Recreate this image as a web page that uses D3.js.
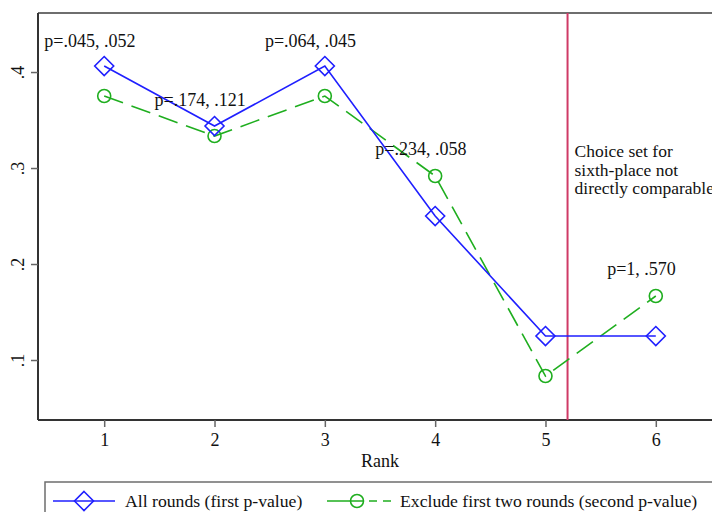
<!DOCTYPE html>
<html>
<head>
<meta charset="utf-8">
<script src="https://cdn.jsdelivr.net/npm/d3@7"></script>
<style>
  html, body { margin: 0; padding: 0; background: #fff; }
  svg { display: block; font-family: "Liberation Serif", "Times New Roman", serif; }
  svg text { font-family: "Liberation Serif", "Times New Roman", serif; }
</style>
</head>
<body>
<svg id="chart" width="712" height="512"></svg>
<script>
// ---- data ----
const ranks = [1, 2, 3, 4, 5, 6];
const allRounds = [0.40625, 0.34375, 0.40625, 0.25, 0.125, 0.125];
const excludeFirstTwo = [0.375, 0.3333, 0.375, 0.2917, 0.0833, 0.1667];
const pLabelRanks = [1, 2, 3, 4, 6];
const pLabels = ["p=.045, .052", "p=.174, .121", "p=.064, .045", "p=.234, .058", "p=1, .570"];
const pLabelY = [0.426, 0.3646, 0.426, 0.3135, 0.1885];
const xTicks = [1, 2, 3, 4, 5, 6];
const yTicks = [0.1, 0.2, 0.3, 0.4];
const yTickLabels = [".1", ".2", ".3", ".4"];
const cutoffRank = 5.2;
const noteLines = ["Choice set for", "sixth-place not", "directly comparable"];
const legendLabels = ["All rounds (first p-value)", "Exclude first two rounds (second p-value)"];
const xTitle = "Rank";

// ---- layout ----
const svg = d3.select("#chart");
const pL = 38, pR = 722, pT = 13, pB = 420;
const x = d3.scaleLinear().domain([0.4, 6.6]).range([pL, pR]);
const y = d3.scaleLinear().domain([0.0375, 0.4615]).range([pB, pT]);

const blue = "#1f1fff", green = "#1fae1f", red = "#cf3a66";
const fs = 18;

// plot frame (top and right)
svg.append("line").attr("x1", pL).attr("x2", pR).attr("y1", pT).attr("y2", pT)
  .attr("stroke", "#6e6e6e").attr("stroke-width", 2);
svg.append("line").attr("x1", pR).attr("x2", pR).attr("y1", pT).attr("y2", pB)
  .attr("stroke", "#6e6e6e").attr("stroke-width", 2);

// axes
const xAxis = d3.axisBottom(x).tickValues(xTicks).tickSize(7).tickPadding(5).tickFormat(d3.format("d"));
const gx = svg.append("g").attr("transform", `translate(0,${pB})`).call(xAxis)
  .attr("font-family", null).attr("font-size", null);
gx.select(".domain").attr("d", `M${pL},0H${pR}`).attr("stroke", "#333").attr("stroke-width", 2);
gx.selectAll(".tick line").attr("stroke", "#666").attr("stroke-width", 1.5);
gx.selectAll(".tick text").attr("font-size", fs).attr("fill", "#111")
  .attr("dy", null).attr("y", 26);

const yAxis = d3.axisLeft(y).tickValues(yTicks).tickSize(7).tickFormat((d, i) => yTickLabels[i]);
const gy = svg.append("g").attr("transform", `translate(${pL},0)`).call(yAxis)
  .attr("font-family", null).attr("font-size", null);
gy.select(".domain").attr("d", `M0,${pT}V${pB}`).attr("stroke", "#333").attr("stroke-width", 2);
gy.selectAll(".tick line").attr("stroke", "#666").attr("stroke-width", 1.5);
gy.selectAll(".tick text").attr("font-size", fs).attr("fill", "#111")
  .attr("x", null).attr("dy", null)
  .attr("text-anchor", "middle")
  .attr("transform", "translate(-14,0) rotate(-90)");

// x title
svg.append("text").attr("x", (pL + pR) / 2).attr("y", 467).attr("text-anchor", "middle")
  .attr("font-size", fs).attr("fill", "#111").text(xTitle);

// cutoff line
svg.append("line").attr("x1", x(cutoffRank)).attr("x2", x(cutoffRank)).attr("y1", pT).attr("y2", pB)
  .attr("stroke", red).attr("stroke-width", 2);

// note text
svg.append("g").selectAll("text").data(noteLines).join("text")
  .attr("x", x(cutoffRank) + 7).attr("y", (d, i) => 157 + i * 18.5)
  .attr("font-size", 17.5).attr("fill", "#111").text(d => d);

const lineGen = d3.line().x(d => x(d[0])).y(d => y(d[1]));
const blueData = ranks.map((r, i) => [r, allRounds[i]]);
const greenData = ranks.map((r, i) => [r, excludeFirstTwo[i]]);

// green series
svg.append("path").datum(greenData).attr("d", lineGen).attr("fill", "none")
  .attr("stroke", green).attr("stroke-width", 1.6).attr("stroke-dasharray", "20,9");
svg.append("g").selectAll("circle").data(greenData).join("circle")
  .attr("cx", d => x(d[0])).attr("cy", d => y(d[1])).attr("r", 6.5)
  .attr("fill", "none").attr("stroke", green).attr("stroke-width", 1.6);

// blue series
svg.append("path").datum(blueData).attr("d", lineGen).attr("fill", "none")
  .attr("stroke", blue).attr("stroke-width", 1.6);
const diamond = (cx, cy, r) => `M${cx},${cy - r}L${cx + r},${cy}L${cx},${cy + r}L${cx - r},${cy}Z`;
svg.append("g").selectAll("path").data(blueData).join("path")
  .attr("d", d => diamond(x(d[0]), y(d[1]), 9.5))
  .attr("fill", "none").attr("stroke", blue).attr("stroke-width", 1.6);

// p-value labels
svg.append("g").selectAll("text").data(pLabels).join("text")
  .attr("x", (d, i) => x(pLabelRanks[i] - 0.13)).attr("y", (d, i) => y(pLabelY[i]))
  .attr("text-anchor", "middle").attr("font-size", 18).attr("fill", "#111").text(d => d);

// legend
const lg = svg.append("g");
lg.append("rect").attr("x", 45).attr("y", 482).attr("width", 700).attr("height", 60)
  .attr("fill", "none").attr("stroke", "#6e6e6e").attr("stroke-width", 1.5);
const ly = 501;
lg.append("line").attr("x1", 53).attr("x2", 115).attr("y1", ly).attr("y2", ly)
  .attr("stroke", blue).attr("stroke-width", 1.6);
lg.append("path").attr("d", diamond(84, ly, 9.5)).attr("fill", "none").attr("stroke", blue).attr("stroke-width", 1.6);
lg.append("text").attr("x", 125).attr("y", 507).attr("font-size", 17.7).attr("fill", "#111").text(legendLabels[0]);
lg.append("line").attr("x1", 327).attr("x2", 391).attr("y1", ly).attr("y2", ly)
  .attr("stroke", green).attr("stroke-width", 1.6).attr("stroke-dasharray", "36,6,8,6,8");
lg.append("circle").attr("cx", 357).attr("cy", ly).attr("r", 6.5).attr("fill", "none")
  .attr("stroke", green).attr("stroke-width", 1.6);
lg.append("text").attr("x", 400).attr("y", 507).attr("font-size", 17.7).attr("fill", "#111").text(legendLabels[1]);
</script>
</body>
</html>
